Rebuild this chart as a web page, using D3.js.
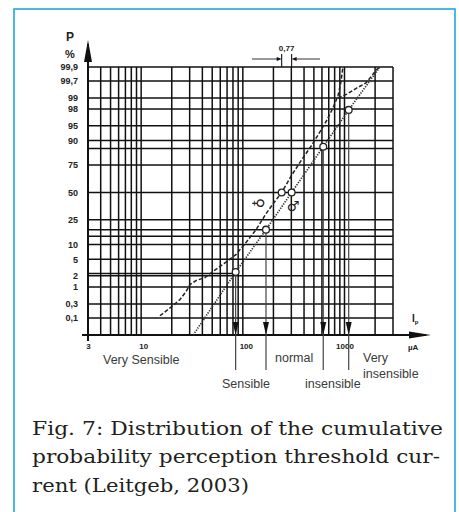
<!DOCTYPE html>
<html><head><meta charset="utf-8">
<script src="https://cdn.jsdelivr.net/npm/d3@7"></script>
<style>html,body{margin:0;padding:0;background:#fff;} svg{display:block}</style>
</head><body>
<svg id="c" width="459" height="512"></svg>
<script>
// ---------------- data ----------------
const xGrid = [3,4,5,6,7,8,9,10,20,30,40,50,60,70,80,90,100,200,300,400,500,600,700,800,900,1000,2000,3000];
const xTicks = [3,10,100,1000];
const yGrid = [0.1,0.3,1,2,5,10,14,18,25,50,75,86,90,95,98,99,99.7,99.9];
const yTicks = [99.9,99.7,99,98,95,90,75,50,25,10,5,2,1,0.3,0.1];
// empirical cumulative curve (µA, %)
const empI = [15.3,20.1,24.1,27.6,30.2,34.6,42.4,50.9,65.3,85.6,107,135,169,202,241,304,390,478,573,672,770,862,922,965];
const empP = [0.12,0.25,0.42,0.73,1.17,1.5,1.8,2.6,4.0,6.3,10.8,18,30,40,50,66.8,80.3,87.9,93.2,96.3,98.13,99.13,99.67,99.9];
// upper branch of the empirical curve
const upI = [862,1057,1325,1625,1861,2084,2250];
const upP = [99.0,99.23,99.5,99.65,99.8,99.88,99.9];
// fitted log-normal line
const fitI = [32.5,85,169,302,618,1100,2230];
const fitP = [0.0224,2.5,18,50,87,97.9,99.9];
// marked points
const ptI = [85,169,302,618,1100,241];
const ptP = [2.5,18,50,87,97.9,50];
// class boundaries (arrows to the axis)
const bndI = [85,169,618,1100];
const bndP = [2.5,18,87,97.9];
// medians (female, male) and their ratio
const medI = [241,302];
const ratioText = "0,77";
// reading line at the lower boundary
const readI = [3,85];
const readP = 2.3;
const classes = ["Very Sensible","Sensible","normal","insensible","Very","insensible"];
const caption = ["Fig. 7: Distribution of the cumulative","probability perception threshold cur-","rent (Leitgeb, 2003)"];
const pMin = 0.0224, pMax = 99.9, iMin = 3, iMax = 3000;

// ---------------- helpers ----------------
function probit(p){
  const a=[-3.969683028665376e+01,2.209460984245205e+02,-2.759285104469687e+02,1.383577518672690e+02,-3.066479806614716e+01,2.506628277459239e+00];
  const b=[-5.447609879822406e+01,1.615858368580409e+02,-1.556989798598866e+02,6.680131188771972e+01,-1.328068155288572e+01];
  const c=[-7.784894002430293e-03,-3.223964580411365e-01,-2.400758277161838e+00,-2.549732539343734e+00,4.374664141464968e+00,2.938163982698783e+00];
  const d=[7.784695709041462e-03,3.224671290700398e-01,2.445134137142996e+00,3.754408661907416e+00];
  const pl=0.02425, ph=1-pl; let q,r;
  if(p<pl){q=Math.sqrt(-2*Math.log(p));return (((((c[0]*q+c[1])*q+c[2])*q+c[3])*q+c[4])*q+c[5])/((((d[0]*q+d[1])*q+d[2])*q+d[3])*q+1);}
  if(p<=ph){q=p-0.5;r=q*q;return (((((a[0]*r+a[1])*r+a[2])*r+a[3])*r+a[4])*r+a[5])*q/(((((b[0]*r+b[1])*r+b[2])*r+b[3])*r+b[4])*r+1);}
  q=Math.sqrt(-2*Math.log(1-p));return -(((((c[0]*q+c[1])*q+c[2])*q+c[3])*q+c[4])*q+c[5])/((((d[0]*q+d[1])*q+d[2])*q+d[3])*q+1);
}
const X0=88, X1=393, Y0=335, Y1=67;
const x = d3.scaleLog().domain([iMin,iMax]).range([X0,X1]);
const zS = d3.scaleLinear().domain([probit(pMin/100),probit(pMax/100)]).range([Y0,Y1]);
function makeY(){
  const s = p => zS(probit(p/100));
  s.range = () => zS.range();
  s.domain = () => [pMin,pMax];
  s.copy = () => makeY();
  return s;
}
const y = makeY();

const svg = d3.select("#c");
svg.append("rect").attr("x",14).attr("y",9).attr("width",441).attr("height",520)
  .attr("fill","#fff").attr("stroke","#1ea7e1").attr("stroke-width",1.6);

const ink = "#111";
// grid
const g = svg.append("g");
g.selectAll("line.v").data(xGrid).join("line").attr("class","v")
  .attr("x1",d=>x(d)).attr("x2",d=>x(d)).attr("y1",y(pMin)).attr("y2",y(pMax))
  .attr("stroke",ink).attr("stroke-width",1.5);
g.selectAll("line.h").data(yGrid).join("line").attr("class","h")
  .attr("x1",x(iMin)).attr("x2",x(iMax)).attr("y1",d=>y(d)).attr("y2",d=>y(d))
  .attr("stroke",ink).attr("stroke-width",1.5);
// reading line
g.append("line").attr("x1",x(readI[0])).attr("x2",x(readI[1])).attr("y1",y(readP)).attr("y2",y(readP))
  .attr("stroke",ink).attr("stroke-width",1.4);

// axes lines with arrows
svg.append("line").attr("x1",X0).attr("x2",X0).attr("y1",Y0+6).attr("y2",44).attr("stroke",ink).attr("stroke-width",2);
svg.append("path").attr("d",`M${X0},40 L${X0-4},62 L${X0+4},62 Z`).attr("fill",ink);
svg.append("line").attr("x1",X0-6).attr("x2",426).attr("y1",Y0).attr("y2",Y0).attr("stroke",ink).attr("stroke-width",2.2);
svg.append("path").attr("d",`M431,${Y0} L409,${Y0-3.5} L409,${Y0+3.5} Z`).attr("fill",ink);

// tick labels via d3 axes
const fmt = d => String(d).replace(".",",");
const bold = "Liberation Sans, Arial, sans-serif";
const ax = svg.append("g").attr("transform",`translate(0,${Y0})`)
  .call(d3.axisBottom(x).tickValues(xTicks).tickFormat(fmt).tickSize(0).tickPadding(8.5));
ax.select(".domain").remove();
ax.selectAll("text").attr("font-family",bold).attr("font-weight","bold")
  .attr("font-size",8).attr("fill","#222").attr("dx",d=>d===100?3:(d===10?2:0));
const ay = svg.append("g").attr("transform",`translate(${X0},0)`)
  .call(d3.axisLeft(y).tickValues(yTicks).tickFormat(fmt).tickSize(0).tickPadding(10));
ay.select(".domain").remove();
ay.selectAll("text").attr("font-family",bold).attr("font-weight","bold")
  .attr("font-size",9).attr("fill","#222");

// axis titles
svg.append("text").attr("x",70).attr("y",41).attr("text-anchor","middle").attr("font-family",bold)
  .attr("font-weight","bold").attr("font-size",12).attr("fill","#222").text("P");
svg.append("text").attr("x",70).attr("y",58).attr("text-anchor","middle").attr("font-family",bold)
  .attr("font-weight","bold").attr("font-size",11).attr("fill","#222").text("%");
const ip = svg.append("text").attr("x",412).attr("y",322).attr("font-family",bold)
  .attr("font-weight","bold").attr("font-size",10).attr("fill","#222");
ip.append("tspan").text("I");
ip.append("tspan").attr("font-size",6).attr("dy",2).text("p");
svg.append("text").attr("x",408).attr("y",349.5).attr("font-family",bold)
  .attr("font-weight","bold").attr("font-size",8).attr("fill","#222").text("µA");

// curves
const line = d3.line().x(d=>x(d[0])).y(d=>y(d[1]));
svg.append("path").datum(empI.map((v,i)=>[v,empP[i]])).attr("d",line)
  .attr("fill","none").attr("stroke","#222").attr("stroke-width",1.5).attr("stroke-dasharray","4,2");
svg.append("path").datum(upI.map((v,i)=>[v,upP[i]])).attr("d",line)
  .attr("fill","none").attr("stroke","#222").attr("stroke-width",1.5).attr("stroke-dasharray","4,2");
svg.append("path").datum(fitI.map((v,i)=>[v,fitP[i]])).attr("d",line)
  .attr("fill","none").attr("stroke","#333").attr("stroke-width",1.7).attr("stroke-dasharray","1.3,1.3");

// boundary arrows
bndI.forEach((v,i)=>{
  const cx = x(v);
  svg.append("line").attr("x1",cx).attr("x2",cx).attr("y1",y(bndP[i])).attr("y2",370)
    .attr("stroke","#444").attr("stroke-width",1.2);
  svg.append("path").attr("d",`M${cx},${Y0} L${cx-3},${Y0-13} L${cx+3},${Y0-13} Z`).attr("fill",ink);
});

// points
svg.selectAll("circle.pt").data(ptI.map((v,i)=>[v,ptP[i]])).join("circle").attr("class","pt")
  .attr("cx",d=>x(d[0])).attr("cy",d=>y(d[1])).attr("r",3.4)
  .attr("fill","#fff").attr("stroke","#222").attr("stroke-width",1.3);

// sex symbols
svg.append("text").attr("transform","translate(259,203) rotate(90)").attr("text-anchor","middle")
  .attr("dominant-baseline","central").attr("font-family","DejaVu Sans").attr("font-size",14)
  .attr("font-weight","bold").attr("fill","#222").text("♀");
svg.append("text").attr("x",293).attr("y",206).attr("text-anchor","middle")
  .attr("dominant-baseline","central").attr("font-family","DejaVu Sans").attr("font-size",14)
  .attr("font-weight","bold").attr("fill","#222").text("♂");

// ratio annotation
medI.forEach(v=>{
  svg.append("line").attr("x1",x(v)).attr("x2",x(v)).attr("y1",Y1).attr("y2",54).attr("stroke",ink).attr("stroke-width",1.1);
});
const mA = x(medI[0]), mB = x(medI[1]);
svg.append("line").attr("x1",252).attr("x2",mA-3).attr("y1",59).attr("y2",59).attr("stroke","#333").attr("stroke-width",1);
svg.append("path").attr("d",`M${mA},59 L${mA-5},57 L${mA-5},61 Z`).attr("fill",ink);
svg.append("line").attr("x1",mB+3).attr("x2",320).attr("y1",59).attr("y2",59).attr("stroke","#333").attr("stroke-width",1);
svg.append("path").attr("d",`M${mB},59 L${mB+5},57 L${mB+5},61 Z`).attr("fill",ink);
svg.append("text").attr("x",(mA+mB)/2).attr("y",51).attr("text-anchor","middle").attr("font-family",bold)
  .attr("font-weight","bold").attr("font-size",8).attr("fill","#222").text(ratioText);

// class labels
const clsPos = [[103,364],[222,388],[275,362],[305,388],[363,362],[363,378]];
svg.selectAll("text.cls").data(classes).join("text").attr("class","cls")
  .attr("x",(d,i)=>clsPos[i][0]).attr("y",(d,i)=>clsPos[i][1])
  .attr("font-family","Liberation Sans, Arial, sans-serif").attr("font-size",12.5).attr("fill","#3a3a3a").text(d=>d);

// caption
const capY = [435,463,492], capW = [411,408,217];
svg.selectAll("text.cap").data(caption).join("text").attr("class","cap")
  .attr("x",32).attr("y",(d,i)=>capY[i]).attr("textLength",(d,i)=>capW[i]).attr("lengthAdjust","spacingAndGlyphs")
  .attr("font-family","DejaVu Serif, serif").attr("font-size",19).attr("fill","#231f20").text(d=>d);
</script>
</body></html>
